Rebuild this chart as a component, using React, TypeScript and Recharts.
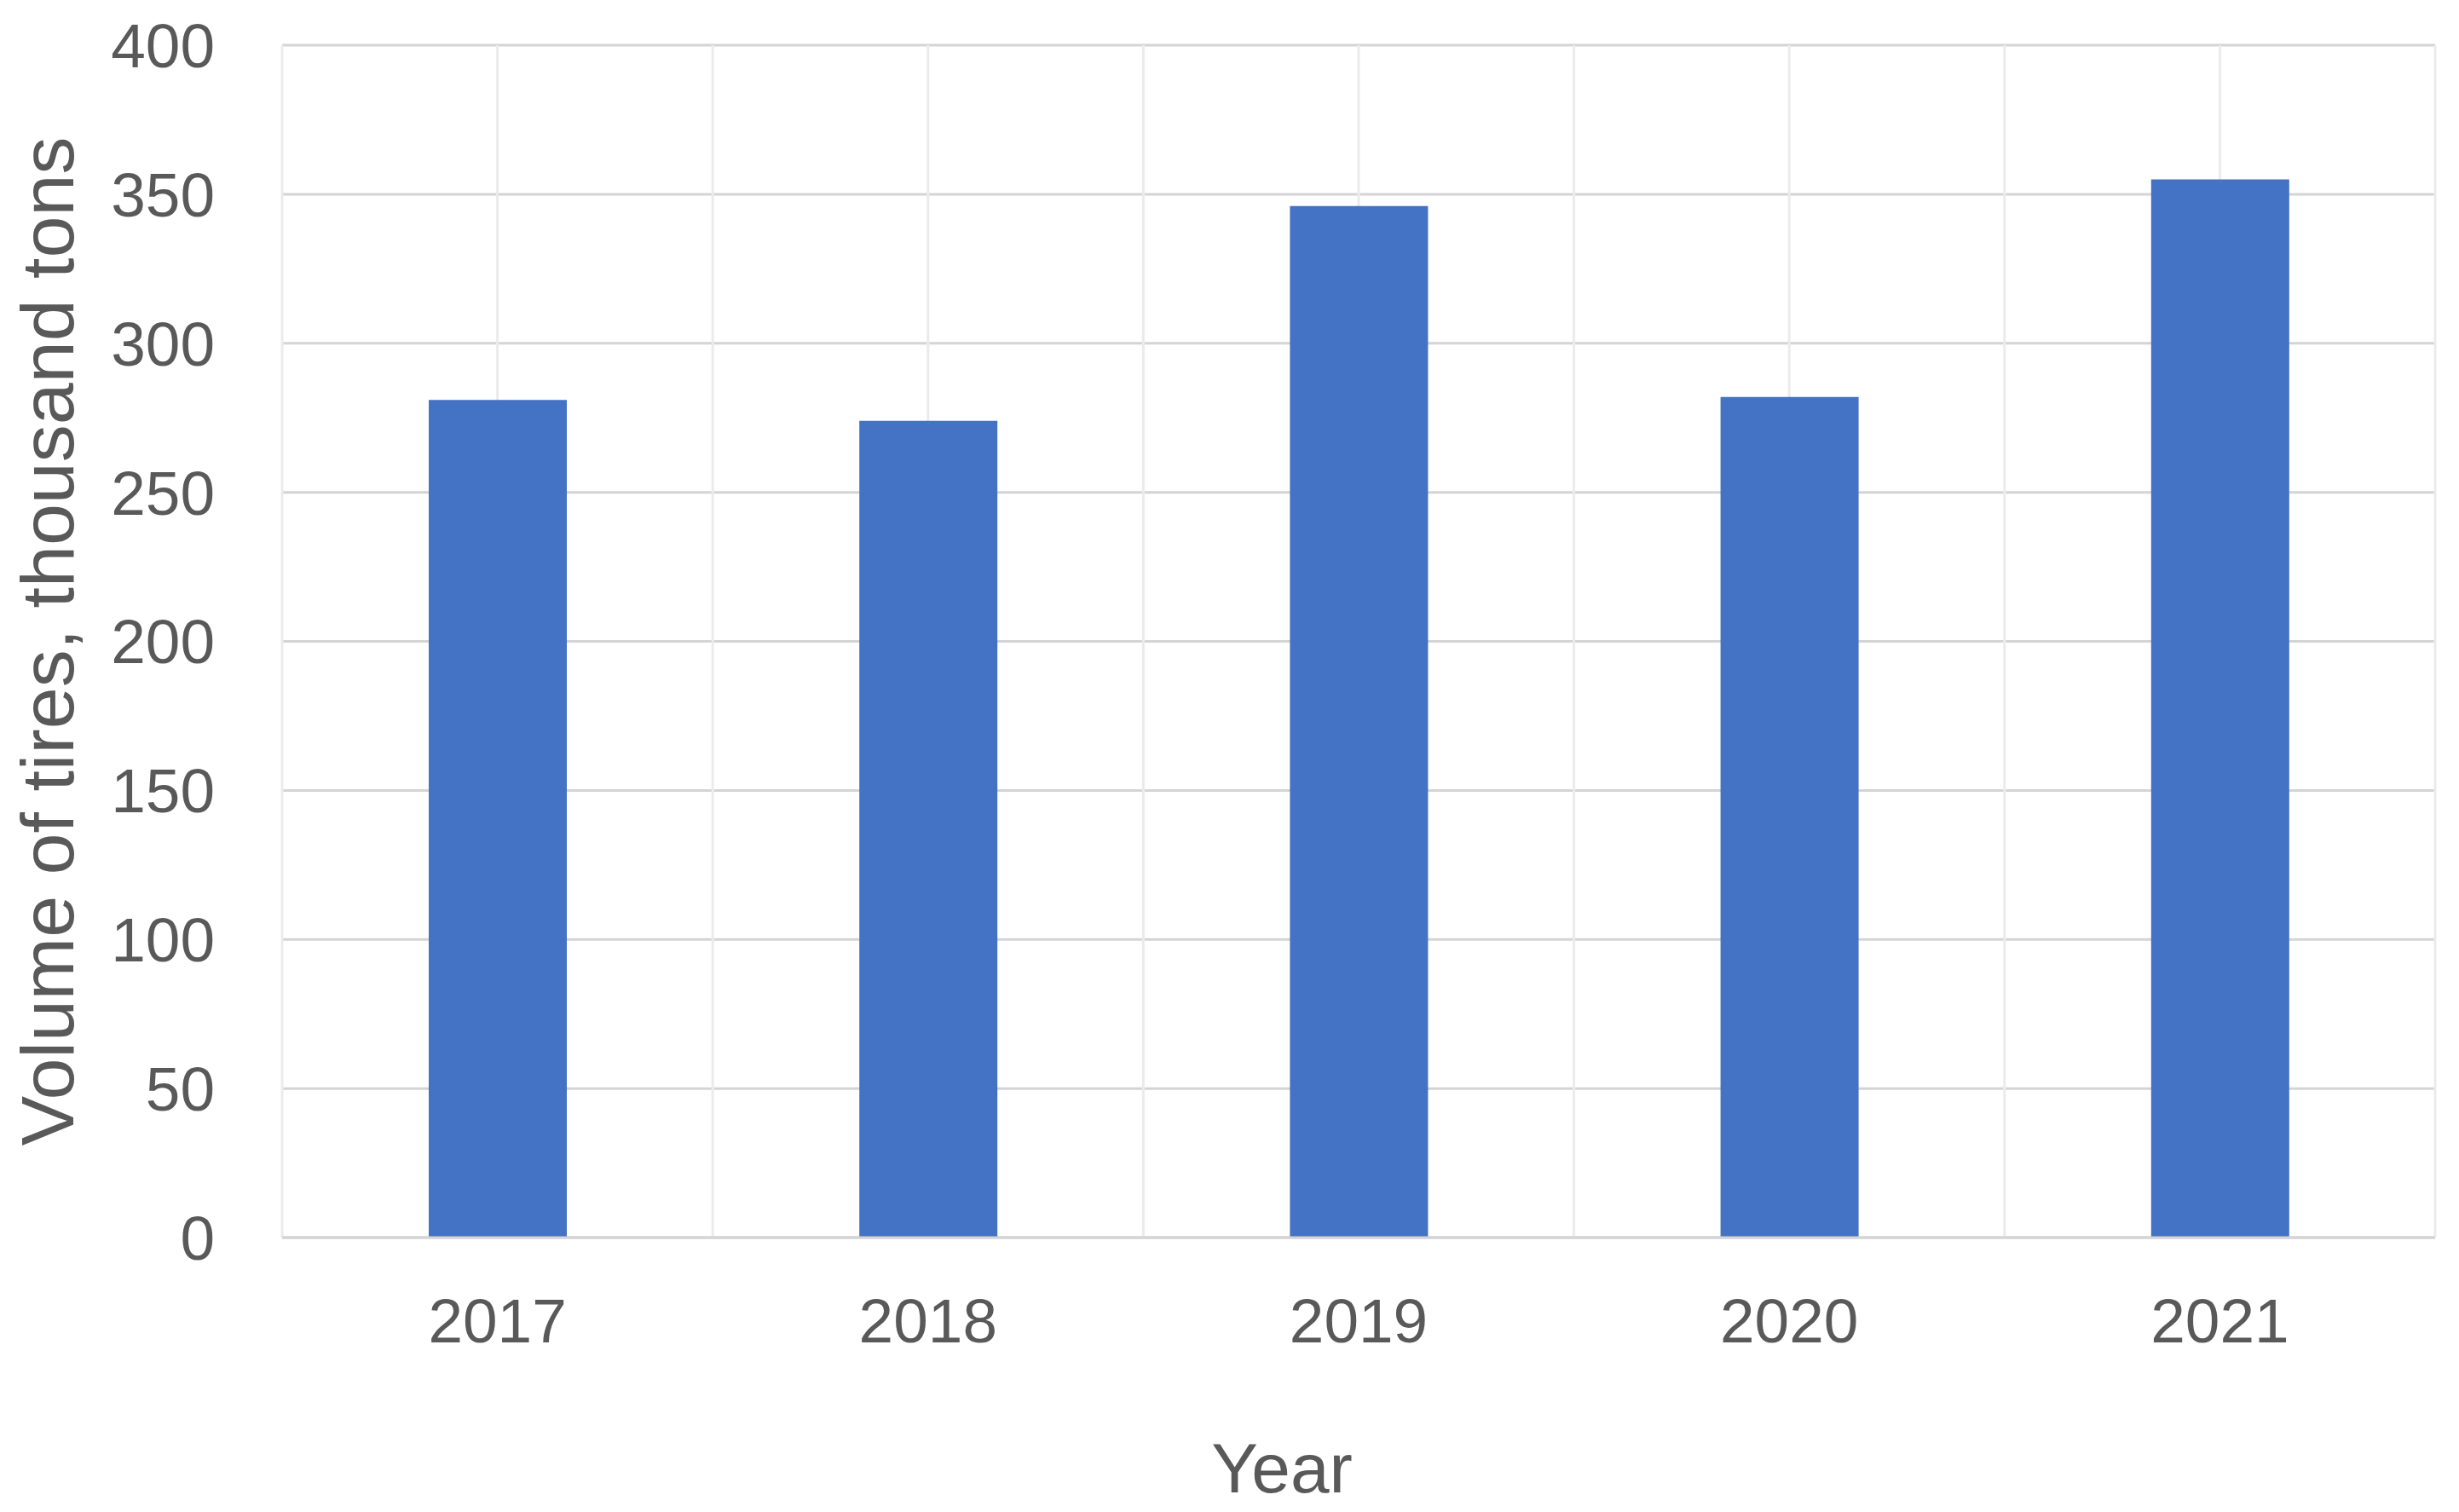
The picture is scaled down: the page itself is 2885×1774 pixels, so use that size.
import React from "react";
import {
  BarChart,
  Bar,
  XAxis,
  YAxis,
  CartesianGrid,
} from "recharts";

const YEARS = ["2017", "2018", "2019", "2020", "2021"];
const VOLUMES = [281, 274, 346, 282, 355];
const Y_TICKS = [0, 50, 100, 150, 200, 250, 300, 350, 400];

const X_TITLE = "Year";
const Y_TITLE = "Volume of tires, thousand tons";

const data = YEARS.map((year, i) => ({ year, volume: VOLUMES[i] }));

const FONT = "'Liberation Sans', Arial, sans-serif";
const TEXT_COLOR = "#595959";

// lines at category centres and category boundaries
const verticalLines = ({ offset }: any) => {
  const n = YEARS.length;
  const step = offset.width / n;
  const coords: number[] = [];
  for (let i = 0; i <= n * 2; i++) {
    coords.push(offset.left + (i * step) / 2);
  }
  return coords;
};

const App: React.FC = () => {
  return (
    <div style={{ position: "absolute", left: 0, top: 0, background: "#fff" }}>
      <BarChart
        width={2885}
        height={1774}
        data={data}
        margin={{ top: 53, right: 28, left: 0, bottom: 0 }}
      >
        <CartesianGrid vertical={false} stroke="#d4d4d4" strokeWidth={3} />
        <CartesianGrid
          horizontal={false}
          stroke="#ebebeb"
          strokeWidth={3}
          verticalCoordinatesGenerator={verticalLines}
        />
        <XAxis
          dataKey="year"
          height={322}
          tickLine={false}
          tickSize={0}
          tickMargin={71}
          axisLine={{ stroke: "#d4d4d4", strokeWidth: 3 }}
          tick={{ fontSize: 73, fill: TEXT_COLOR, fontFamily: FONT }}
          label={{
            value: X_TITLE,
            position: "center",
            dx: -90,
            dy: 109,
            fontSize: 82,
            fill: TEXT_COLOR,
            fontFamily: FONT,
          }}
        />
        <YAxis
          width={331}
          domain={[0, 400]}
          ticks={Y_TICKS}
          axisLine={false}
          tickLine={false}
          tickSize={0}
          tickMargin={79}
          tick={{ fontSize: 73, fill: TEXT_COLOR, fontFamily: FONT }}
          label={{
            value: Y_TITLE,
            angle: -90,
            position: "center",
            dx: -111,
            fontSize: 88,
            fill: TEXT_COLOR,
            fontFamily: FONT,
          }}
        />
        <Bar
          dataKey="volume"
          fill="#4472C4"
          barSize={162}
          isAnimationActive={false}
        />
      </BarChart>
    </div>
  );
};

export default App;
